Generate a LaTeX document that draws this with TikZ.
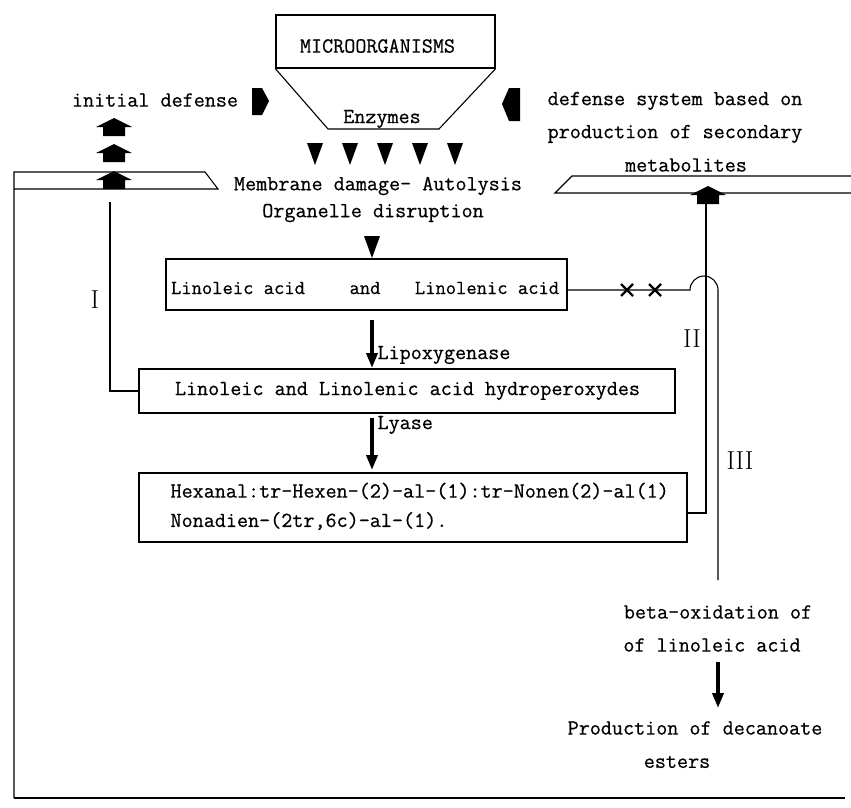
\documentclass[tikz,border=0pt]{standalone}
\usepackage{fontspec}
\newfontfamily\twfont[FakeBold=0.6]{Latin Modern Mono}
\usetikzlibrary{arrows.meta}
\begin{document}
\begin{tikzpicture}[x=1pt,y=-1pt,line width=1.1pt,
  lbl/.style={font=\twfont\fontsize{21.5}{26}\selectfont,inner sep=0pt},
  lblsmall/.style={font=\twfont\fontsize{20}{24}\selectfont,inner sep=0pt},
  roman/.style={font=\rmfamily\fontsize{26}{30}\selectfont,inner sep=0pt},
  boxed/.style={draw,line width=1.3pt,inner sep=0pt},
  thickarrow/.style={line width=3.6pt,-{Triangle[width=11pt,length=15pt]}},
  cross/.style={line width=2.4pt},
  housearrow/.pic={\fill (-18,0) -- (0,-9) -- (18,0) -- (11,0) -- (11,9) -- (-11,9) -- (-11,0) -- cycle;},
  downtri/.pic={\fill (-8,0) -- (8,0) -- (0,22) -- cycle;}]
\useasboundingbox (0,0) rectangle (851,808);

% microorganisms
\node[boxed,minimum width=219pt,minimum height=53pt] (micro) at (385.5,41.5) {};
\node[lbl] (mtext) at (377.5,46) {MICROORGANISMS};
\coordinate (tbl) at (328,129);
\coordinate (tbr) at (439,129);
\draw (micro.south west) -- (tbl) -- (tbr) -- (micro.south east);
\node[lbl] (enz) at (382,119) {Enzymes};
\foreach \x in {315,350,385,420,455} \pic at (\x,143) {downtri};

% defenses
\node[lbl] (initdef) at (155,100) {initial defense};
\fill (252,88) -- (262,88) -- (269,101) -- (262,115) -- (252,115) -- cycle;
\fill (520,88) -- (509,88) -- (502,104) -- (509,121) -- (520,121) -- cycle;
\node[lbl] (def1) at (675,101) {defense system based on};
\node[lbl] (def2) at (675,134) {production of secondary};
\node[lbl] (def3) at (686,165) {metabolites};

% membranes
\draw (14,798) -- (14,172) -- (205,172) -- (218,189) -- (14,189);
\draw (851,176) -- (572,176) -- (555,193) -- (851,193);
\pic at (114,127) {housearrow};
\pic at (114,153) {housearrow};
\pic at (114,180) {housearrow};
\pic at (708,195) {housearrow};

\node[lbl] (memb) at (378,186) {Membrane damage- Autolysis};
\node[lbl] (org) at (373,213) {Organelle disruption};
\pic at (372,236) {downtri};

% boxes
\node[boxed,minimum width=401pt,minimum height=51pt] (box1) at (366.5,284.5) {};
\node[lblsmall] (la) at (238,288) {Linoleic acid};
\node[lblsmall] (and) at (365,288) {and};
\node[lblsmall] (lna) at (487,288) {Linolenic acid};

\node[boxed,minimum width=536pt,minimum height=44pt] (box2) at (407,391) {};
\node[lbl] (hp) at (407.5,391) {Linoleic and Linolenic acid hydroperoxydes};

\node[boxed,minimum width=548pt,minimum height=69pt] (box3) at (413,507.5) {};
\node[lbl,anchor=west] (ald1) at (170,491) {Hexanal:tr-Hexen-(2)-al-(1):tr-Nonen(2)-al(1)};
\node[lbl,anchor=west] (ald2) at (170,521) {Nonadien-(2tr,6c)-al-(1).};

% enzyme arrows
\coordinate (a1s) at (372,320);
\coordinate (a1e) at (372,368);
\draw[thickarrow] (a1s) -- (a1e);
\node[lbl,anchor=west] (lox) at (377,355) {Lipoxygenase};
\coordinate (a2s) at (372,418);
\coordinate (a2e) at (372,470);
\draw[thickarrow] (a2s) -- (a2e);
\node[lbl,anchor=west] (lya) at (377,425) {Lyase};

% path I
\coordinate (p1) at (110,202);
\draw (p1) |- (box2.west);
\node[roman] (lI) at (95,300) {I};

% path II
\coordinate (p2) at (706,200);
\coordinate (p2b) at (706,513);
\draw (p2) -- (p2b) -- (box3.east |- p2b);
\node[roman] (lII) at (692,339) {II};

% path III with crossing hop
\coordinate (p3a) at (690,290);
\coordinate (p3e) at (718,580);
\draw (box1.east |- p3a) -- (p3a) arc[start angle=180,end angle=360,radius=14] -- (p3e);
\draw[cross] (621,284) -- (633,296) (621,296) -- (633,284);
\draw[cross] (649,284) -- (661,296) (649,296) -- (661,284);
\node[roman] (lIII) at (740,461) {III};

% beta oxidation
\node[lbl] (beta1) at (718,612) {beta-oxidation of};
\node[lbl] (beta2) at (712,645) {of linoleic acid};
\coordinate (a3s) at (718,662);
\coordinate (a3e) at (718,708);
\draw[thickarrow] (a3s) -- (a3e);
\node[lbl] (prod1) at (695,728) {Production of decanoate};
\node[lbl] (prod2) at (677,762) {esters};

% frame bottom
\draw (14,798) -- (845,798);
\end{tikzpicture}
\end{document}
